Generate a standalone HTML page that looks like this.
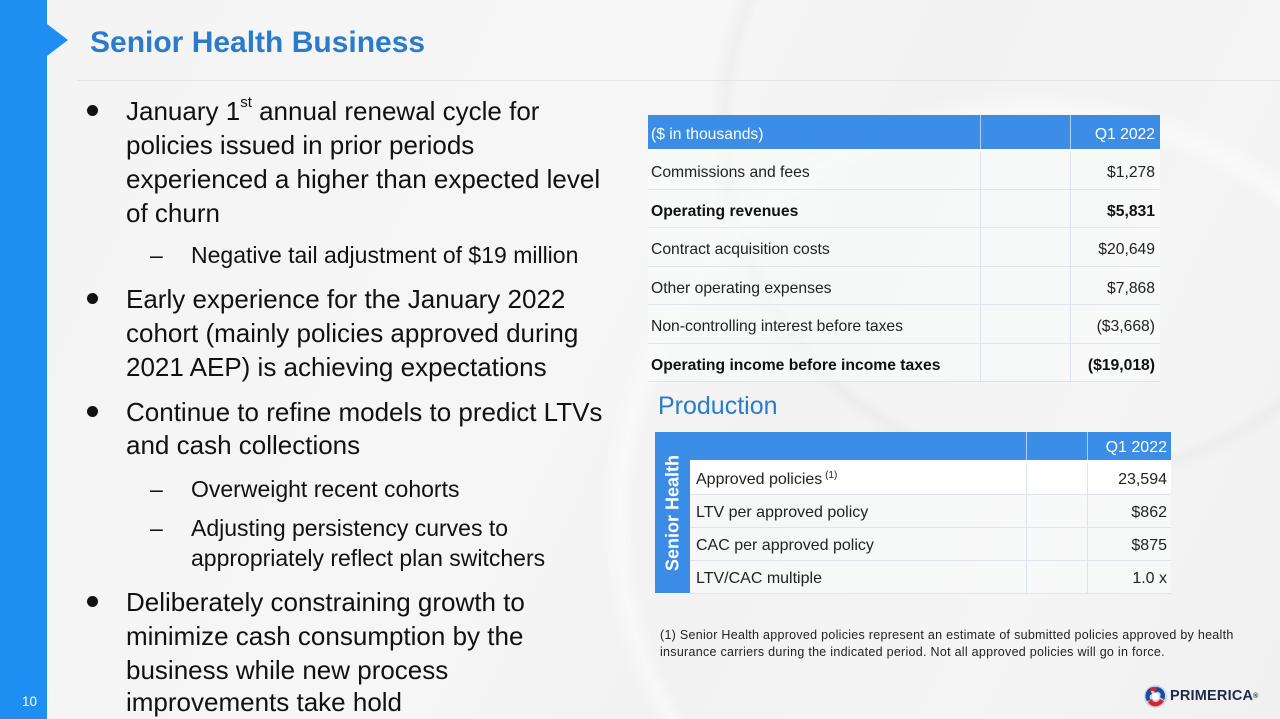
<!DOCTYPE html>
<html>
<head>
<meta charset="utf-8">
<style>
*{margin:0;padding:0;box-sizing:border-box;}
html,body{width:1280px;height:719px;overflow:hidden;}
body{position:relative;font-family:"Liberation Sans",Arial,sans-serif;background:#f3f3f3;
background:
radial-gradient(circle at 1030px 520px, rgba(255,255,255,0) 0, rgba(255,255,255,0) 395px, rgba(255,255,255,0.45) 410px, rgba(255,255,255,0) 430px),
radial-gradient(circle at 1070px 130px, rgba(220,220,220,0) 0, rgba(220,220,220,0) 335px, rgba(225,225,225,0.3) 345px, rgba(220,220,220,0) 360px),
linear-gradient(115deg,#f4f4f4 0%,#f6f6f6 45%,#f2f2f2 60%,#f5f5f5 80%,#f0f0f0 100%);}
.clip{position:absolute;left:0;top:0;width:1280px;height:719px;overflow:hidden;}
.bar{position:absolute;left:0;top:0;width:47px;height:719px;background:#1e8ef2;}
.arrow{position:absolute;left:47px;top:24px;width:0;height:0;border-top:16px solid transparent;border-bottom:16px solid transparent;border-left:21px solid #1e8ef2;}
.title{position:absolute;left:90px;top:25px;font-size:30px;font-weight:bold;color:#2b7bcb;line-height:36px;white-space:nowrap;}
.sep{position:absolute;left:77px;top:80px;width:1203px;height:1px;background:#e4e4e4;}
.l{position:absolute;left:126px;font-size:26px;line-height:32px;color:#111;white-space:nowrap;}
.s{position:absolute;left:191px;font-size:23px;line-height:30px;color:#111;white-space:nowrap;}
.d{position:absolute;left:150px;font-size:23px;line-height:30px;color:#111;}
.dot{position:absolute;left:87px;width:11px;height:11px;border-radius:50%;background:#111;}
sup{font-size:15px;vertical-align:top;line-height:20px;position:relative;top:-2px;}
.num{position:absolute;left:22px;top:694px;font-size:13.5px;color:#fff;line-height:16px;}
.t1{position:absolute;left:648px;top:115px;width:512px;}
.t1 .r{position:relative;height:38.5px;border-bottom:1px solid #dfe4ea;background:rgba(250,251,252,0.55);font-size:15.7px;color:#222;}
.t1 .h{height:36px;background:#3b8de5;color:#fff;border-bottom:2px solid #fff;}
.t1 .c1{position:absolute;left:3px;top:3px;line-height:38px;white-space:nowrap;}
.t1 .h .c1,.t1 .h .c3{line-height:36px;top:2px;}
.t1 .c3{position:absolute;right:5px;top:3px;line-height:38px;}
.t1v{position:absolute;top:115px;width:1px;height:268px;background:#dde3ea;}
.b{font-weight:bold;color:#111;}
.prod{position:absolute;left:658px;top:390px;font-size:25px;color:#2b7bcb;line-height:32px;}
.vb{position:absolute;left:655px;top:432px;width:35px;height:161px;background:#3a8ce4;}
.vt{position:absolute;left:655px;top:432px;width:35px;height:161px;}
.vt span{position:absolute;left:50%;top:50%;transform:translate(-50%,-50%) rotate(-90deg);color:#fff;font-weight:bold;font-size:18px;white-space:nowrap;}
.t2{position:absolute;left:690px;top:432px;width:481px;}
.t2 .r{position:relative;height:33px;border-bottom:1px solid #dfe4ea;background:rgba(250,251,252,0.55);font-size:16px;color:#222;}
.t2 .h{height:30px;background:#3b8de5;color:#fff;border-bottom:2px solid #fff;}
.t2 .r1{background:rgba(255,255,255,0.9);}
.t2 .c1{position:absolute;left:6px;top:1px;line-height:33px;white-space:nowrap;}
.t2 .c3{position:absolute;right:4px;top:1px;line-height:33px;}
.t2 .h .c3{line-height:30px;}
.t2 sup.fn{font-size:10px;vertical-align:6px;line-height:10px;top:0;}
.foot{position:absolute;left:660px;font-size:12.5px;letter-spacing:0.28px;color:#222;white-space:nowrap;line-height:16px;}
.logo{position:absolute;left:1143px;top:684px;width:25px;height:25px;}
.lt{position:absolute;left:1170px;top:688px;font-size:14.5px;font-weight:bold;color:#1e2a4a;line-height:17px;letter-spacing:0.2px;}
</style>
</head>
<body>
<div class="clip">
<div class="bar"></div>
<div class="arrow"></div>
<div class="title">Senior Health Business</div>
<div class="sep"></div>

<div class="dot" style="top:105px"></div>
<div class="l" style="top:95px">January 1<sup>st</sup> annual renewal cycle for</div>
<div class="l" style="top:129px">policies issued in prior periods</div>
<div class="l" style="top:163px">experienced a higher than expected level</div>
<div class="l" style="top:197px">of churn</div>
<div class="d" style="top:240px">–</div>
<div class="s" style="top:240px">Negative tail adjustment of $19 million</div>

<div class="dot" style="top:293px"></div>
<div class="l" style="top:283px">Early experience for the January 2022</div>
<div class="l" style="top:317px">cohort (mainly policies approved during</div>
<div class="l" style="top:351px">2021 AEP) is achieving expectations</div>

<div class="dot" style="top:406px"></div>
<div class="l" style="top:396px">Continue to refine models to predict LTVs</div>
<div class="l" style="top:429px">and cash collections</div>
<div class="d" style="top:474px">–</div>
<div class="s" style="top:474px">Overweight recent cohorts</div>
<div class="d" style="top:513px">–</div>
<div class="s" style="top:513px">Adjusting persistency curves to</div>
<div class="s" style="top:543px">appropriately reflect plan switchers</div>

<div class="dot" style="top:596px"></div>
<div class="l" style="top:586px">Deliberately constraining growth to</div>
<div class="l" style="top:620px">minimize cash consumption by the</div>
<div class="l" style="top:654px">business while new process</div>
<div class="l" style="top:686px;line-height:32px;height:32px;">improvements take hold</div>

<div class="num">10</div>

<div class="t1">
  <div class="r h"><span class="c1">($ in thousands)</span><span class="c3">Q1 2022</span></div>
  <div class="r"><span class="c1">Commissions and fees</span><span class="c3">$1,278</span></div>
  <div class="r"><span class="c1 b">Operating revenues</span><span class="c3 b">$5,831</span></div>
  <div class="r"><span class="c1">Contract acquisition costs</span><span class="c3">$20,649</span></div>
  <div class="r"><span class="c1">Other operating expenses</span><span class="c3">$7,868</span></div>
  <div class="r"><span class="c1">Non-controlling interest before taxes</span><span class="c3">($3,668)</span></div>
  <div class="r"><span class="c1 b">Operating income before income taxes</span><span class="c3 b">($19,018)</span></div>
</div>
<div class="t1v" style="left:980px;height:36px;background:rgba(255,255,255,0.6)"></div>
<div class="t1v" style="left:1070px;height:36px;background:rgba(255,255,255,0.6)"></div>
<div class="t1v" style="left:980px;top:152px;height:231px;"></div>
<div class="t1v" style="left:1070px;top:152px;height:231px;"></div>

<div class="prod">Production</div>

<div class="vb"></div>
<div class="vt"><span>Senior Health</span></div>
<div class="t2">
  <div class="r h"><span class="c3">Q1 2022</span></div>
  <div class="r r1"><span class="c1">Approved policies<sup class="fn"> (1)</sup></span><span class="c3">23,594</span></div>
  <div class="r"><span class="c1">LTV per approved policy</span><span class="c3">$862</span></div>
  <div class="r"><span class="c1">CAC per approved policy</span><span class="c3">$875</span></div>
  <div class="r"><span class="c1">LTV/CAC multiple</span><span class="c3">1.0 x</span></div>
</div>
<div class="t1v" style="left:1026px;top:432px;height:30px;background:rgba(255,255,255,0.6)"></div>
<div class="t1v" style="left:1087px;top:432px;height:30px;background:rgba(255,255,255,0.6)"></div>
<div class="t1v" style="left:1026px;top:463px;height:130px;"></div>
<div class="t1v" style="left:1087px;top:463px;height:130px;"></div>

<div class="foot" style="top:627px">(1) Senior Health approved policies represent an estimate of submitted policies approved by health</div>
<div class="foot" style="top:644px">insurance carriers during the indicated period. Not all approved policies will go in force.</div>

<svg class="logo" viewBox="0 0 25 25">
  <circle cx="12.5" cy="12.5" r="11.5" fill="#c8d6ea"/>
  <path d="M3 9 C5 2,14 1,17 6 L12 9 C11 6,7 6,6 10 Z" fill="#d9262c"/>
  <path d="M13 3 C20 3,24 10,21 16 L17 13 C19 10,16 7,13 8 Z" fill="#1f4b99"/>
  <path d="M21 17 C17 24,8 24,5 18 L9 15 C10 19,15 19,17 15 Z" fill="#d9262c"/>
  <path d="M4 17 C1 12,3 6,7 5 L9 10 C6 11,6 14,8 16 Z" fill="#1f4b99"/>
  <circle cx="12.5" cy="12.5" r="3.5" fill="#fff"/>
</svg>
<div class="lt">PRIMERICA<span style="font-size:7px;vertical-align:top;">®</span></div>
</div>
</body>
</html>
